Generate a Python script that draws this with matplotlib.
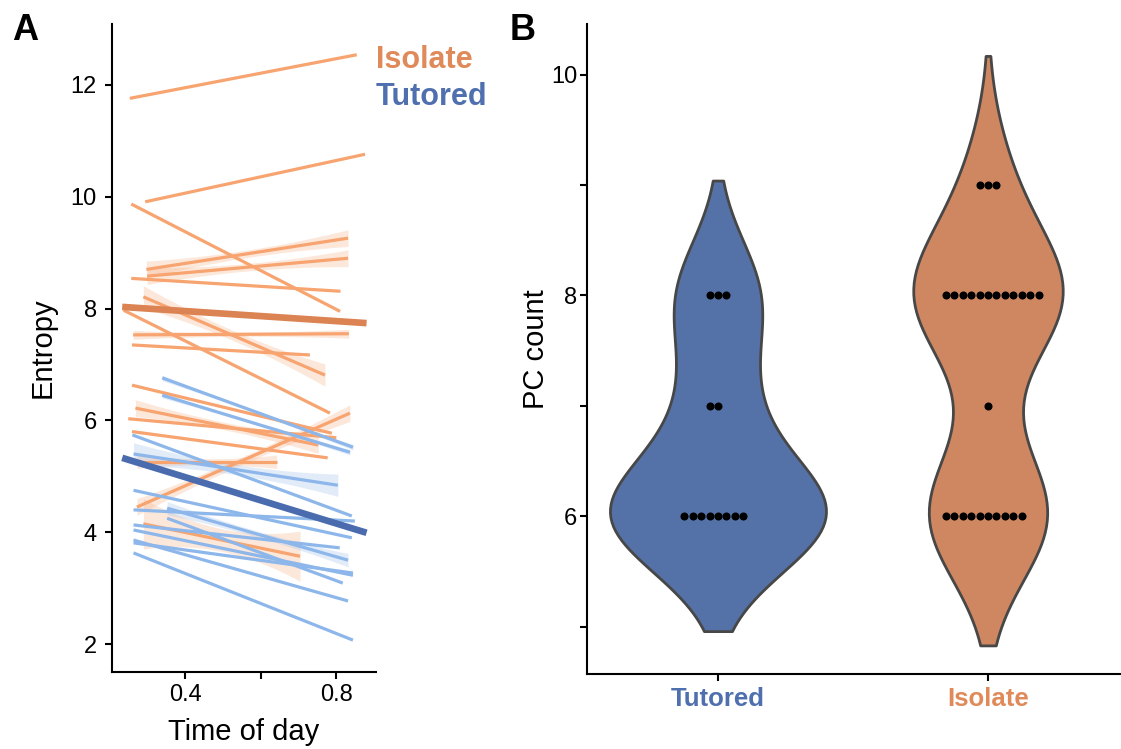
import matplotlib
matplotlib.use('Agg')
import matplotlib.pyplot as plt
import numpy as np
import pandas as pd
import seaborn as sns

plt.rcParams['font.family'] = ['Liberation Sans', 'DejaVu Sans']

# --- Panel A: per-bird entropy trend over the day (fitted line ends) ---
iso_x0 = [0.253, 0.294, 0.257, 0.297, 0.299, 0.257, 0.262, 0.259, 0.289, 0.237, 0.259, 0.268, 0.249, 0.259, 0.272, 0.272, 0.289]
iso_x1 = [0.854, 0.876, 0.810, 0.831, 0.831, 0.811, 0.833, 0.730, 0.770, 0.783, 0.788, 0.752, 0.800, 0.777, 0.642, 0.836, 0.704]
iso_y0 = [11.76, 9.91, 9.87, 8.70, 8.58, 8.54, 7.53, 7.35, 8.21, 7.97, 6.63, 6.22, 6.03, 5.80, 5.26, 4.45, 4.15]
iso_y1 = [12.54, 10.76, 7.95, 9.26, 8.90, 8.31, 7.55, 7.17, 6.81, 6.13, 5.77, 5.56, 5.69, 5.33, 5.26, 6.13, 3.57]
iso_ci = [0, 0, 0, 0.15, 0.15, 0, 0.08, 0, 0.2, 0, 0, 0.15, 0, 0, 0.12, 0.15, 0.45]

tut_x0 = [0.339, 0.339, 0.260, 0.263, 0.263, 0.263, 0.352, 0.263, 0.352, 0.263, 0.263, 0.263, 0.263]
tut_x1 = [0.844, 0.836, 0.841, 0.804, 0.841, 0.849, 0.831, 0.809, 0.817, 0.844, 0.844, 0.831, 0.844]
tut_y0 = [6.76, 6.45, 5.74, 5.40, 4.75, 4.40, 4.43, 4.13, 4.25, 3.81, 3.63, 3.86, 4.04]
tut_y1 = [5.52, 5.43, 4.29, 4.84, 3.90, 4.20, 3.50, 3.72, 3.09, 3.27, 2.07, 2.77, 3.23]
tut_ci = [0.05, 0.05, 0, 0.2, 0, 0, 0.12, 0, 0, 0, 0, 0, 0]

iso_mean_x = [0.233, 0.880]
iso_mean_y = [8.03, 7.74]
tut_mean_x = [0.233, 0.880]
tut_mean_y = [5.33, 3.99]

# --- Panel B: PC count per bird ---
groups = ['Tutored', 'Isolate']
pc_tutored = [6, 6, 6, 6, 6, 6, 6, 6, 7, 7, 8, 8, 8]
pc_isolate = [6, 6, 6, 6, 6, 6, 6, 6, 6, 6, 7,
              8, 8, 8, 8, 8, 8, 8, 8, 8, 8, 8, 8, 9, 9, 9]

iso_light = '#F7A470'
tut_light = '#8DB7EA'
iso_dark = '#DB8352'
tut_dark = '#4A6CAE'
iso_fill = '#CE8760'
tut_fill = '#5572A8'
iso_text = '#E08A5A'
tut_text = '#4F6FAE'


def draw_band(ax, x0, x1, y0, y1, hw, color):
    xs = np.linspace(x0, x1, 40)
    ys = y0 + (y1 - y0) * (xs - x0) / (x1 - x0)
    t = (xs - (x0 + x1) / 2) / ((x1 - x0) / 2)
    w = hw * (0.45 + 0.55 * t ** 2)
    ax.fill_between(xs, ys - w, ys + w, color=color, alpha=0.25, lw=0)


fig = plt.figure(figsize=(11.21, 7.49), dpi=100)
axA = fig.add_axes([112 / 1121, 77 / 749, 264 / 1121, 648 / 749])
axB = fig.add_axes([587 / 1121, 75 / 749, 536 / 1121, 650 / 749])

# panel A
for x0, x1, y0, y1, ci in zip(iso_x0, iso_x1, iso_y0, iso_y1, iso_ci):
    if ci > 0:
        draw_band(axA, x0, x1, y0, y1, ci, iso_light)
    axA.plot([x0, x1], [y0, y1], color=iso_light, lw=2.3, solid_capstyle='butt')
for x0, x1, y0, y1, ci in zip(tut_x0, tut_x1, tut_y0, tut_y1, tut_ci):
    if ci > 0:
        draw_band(axA, x0, x1, y0, y1, ci, tut_light)
    axA.plot([x0, x1], [y0, y1], color=tut_light, lw=2.3, solid_capstyle='butt')
axA.plot(iso_mean_x, iso_mean_y, color=iso_dark, lw=4.8, solid_capstyle='butt')
axA.plot(tut_mean_x, tut_mean_y, color=tut_dark, lw=4.8, solid_capstyle='butt')

axA.set_xlim(0.206, 0.905)
axA.set_ylim(1.5, 13.09)
axA.set_yticks([2, 4, 6, 8, 10, 12])
axA.set_xticks([0.4, 0.6, 0.8])
axA.set_xticklabels(['0.4', '', '0.8'])
axA.set_xlabel('Time of day', fontsize=21, labelpad=9)
axA.set_ylabel('Entropy', fontsize=21, labelpad=10)

# panel B
df = pd.DataFrame({
    'group': ['Tutored'] * len(pc_tutored) + ['Isolate'] * len(pc_isolate),
    'pc': pc_tutored + pc_isolate,
})
sns.violinplot(data=df, x='group', y='pc', hue='group', order=groups, hue_order=groups,
               palette=[tut_fill, iso_fill], saturation=1, inner=None, cut=2,
               density_norm='area', common_norm=True, width=0.8, linewidth=2,
               linecolor='#474747', legend=False, ax=axB)
sns.swarmplot(data=df, x='group', y='pc', order=groups, color='black', size=5.8, ax=axB)
axB.set_xlim(-0.485, 1.5)
axB.set_ylim(4.57, 10.46)
axB.set_yticks([5, 6, 7, 8, 9, 10])
axB.set_yticklabels(['', '6', '', '8', '', '10'])
axB.set_xlabel('')
axB.set_ylabel('PC count', fontsize=21, labelpad=1)
axB.set_xticks([0, 1])
axB.set_xticklabels(groups, fontsize=18.5, fontweight='bold')
for lab, c in zip(axB.get_xticklabels(), [tut_text, iso_text]):
    lab.set_color(c)

for ax in (axA, axB):
    ax.spines['top'].set_visible(False)
    ax.spines['right'].set_visible(False)
    for s in ('left', 'bottom'):
        ax.spines[s].set_linewidth(1.5)
    ax.tick_params(axis='both', width=1.5, length=5, labelsize=17)
    ax.set_facecolor('white')
axA.tick_params(axis='y', pad=6)
axB.tick_params(axis='x', labelsize=18.5, pad=4)
axB.tick_params(axis='y', pad=2)

fig.text(376 / 1121, 1 - 60 / 749, 'Isolate', color=iso_text, fontsize=22,
         fontweight='bold', ha='left', va='center')
fig.text(376 / 1121, 1 - 97 / 749, 'Tutored', color=tut_text, fontsize=22,
         fontweight='bold', ha='left', va='center')
fig.text(12 / 1121, 1 - 30 / 749, 'A', fontsize=26, fontweight='bold', ha='left', va='center')
fig.text(510 / 1121, 1 - 30 / 749, 'B', fontsize=26, fontweight='bold', ha='left', va='center')

fig.savefig('out.png', dpi=100, facecolor='white')
